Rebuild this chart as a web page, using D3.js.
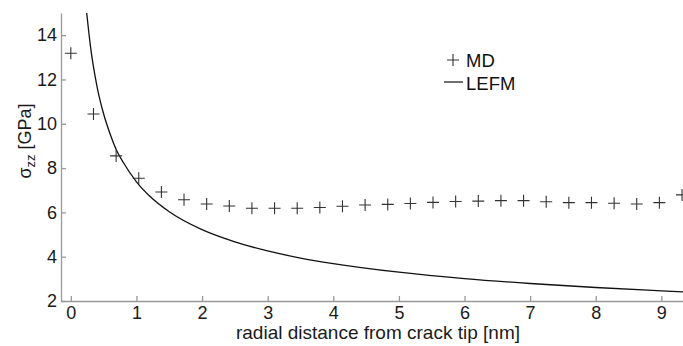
<!DOCTYPE html>
<html>
<head>
<meta charset="utf-8">
<script src="https://cdn.jsdelivr.net/npm/d3@7"></script>
<style>
  body { margin: 0; background: #fff; }
  svg { display: block; font-family: "Liberation Sans", Arial, sans-serif; }
  .axis path, .axis line { stroke: #999; stroke-width: 1.3; }
  .axis text { fill: #1a1a1a; font-size: 18px; }
</style>
</head>
<body>
<div class="svg-container"></div>
<script>
// MD points (radial distance in nm, stress in GPa)
var mdX = [0, 0.345, 0.69, 1.035, 1.38, 1.725, 2.07, 2.415, 2.76, 3.105,
           3.45, 3.795, 4.14, 4.485, 4.83, 5.175, 5.52, 5.865, 6.21, 6.555,
           6.9, 7.245, 7.59, 7.935, 8.28, 8.625, 8.97, 9.315];
var mdY = [13.18, 10.44, 8.55, 7.54, 6.92, 6.57, 6.38, 6.29, 6.19, 6.19,
           6.19, 6.22, 6.28, 6.33, 6.36, 6.40, 6.45, 6.49, 6.51, 6.53,
           6.53, 6.48, 6.44, 6.44, 6.41, 6.38, 6.44, 6.79];

// LEFM curve
var lefmX = [0.242, 0.3, 0.4, 0.5, 0.6, 0.7, 0.8, 1.0, 1.2, 1.5,
             2, 2.5, 3, 3.5, 4, 5, 6, 7, 8, 9, 9.35];
var lefmY = [15.0, 13.47, 11.67, 10.44, 9.53, 8.78, 8.25, 7.38, 6.74, 6.03,
             5.22, 4.67, 4.26, 3.94, 3.69, 3.30, 3.01, 2.79, 2.61, 2.46, 2.41];

var xTicks = [0, 1, 2, 3, 4, 5, 6, 7, 8, 9];
var yTicks = [2, 4, 6, 8, 10, 12, 14];

var legendLabels = ["MD", "LEFM"];

var W = 683, H = 346;
var margin = { top: 13, right: 0, bottom: 45, left: 61 };

var svg = d3.select(".svg-container").append("svg")
  .attr("width", W)
  .attr("height", H);

var x = d3.scaleLinear().domain([-0.15, 9.33]).range([margin.left, W - margin.right]);
var y = d3.scaleLinear().domain([2, 15]).range([H - margin.bottom, margin.top]);

svg.append("defs").append("clipPath").attr("id", "clip")
  .append("rect")
  .attr("x", margin.left).attr("y", margin.top)
  .attr("width", W - margin.left - margin.right)
  .attr("height", H - margin.top - margin.bottom);

// axes
svg.append("g").attr("class", "axis")
  .attr("transform", "translate(0," + (H - margin.bottom) + ")")
  .call(d3.axisBottom(x).tickValues(xTicks).tickSize(-5).tickSizeOuter(0).tickPadding(5));

svg.append("g").attr("class", "axis")
  .attr("transform", "translate(" + margin.left + ",0)")
  .call(d3.axisLeft(y).tickValues(yTicks).tickSize(-5).tickSizeOuter(0).tickPadding(4));

// LEFM line
var lefm = lefmX.map(function(d, i) { return { x: d, y: lefmY[i] }; });
var lineFunction = d3.line()
  .x(function(d) { return x(d.x); })
  .y(function(d) { return y(d.y); })
  .curve(d3.curveMonotoneX);

var plot = svg.append("g").attr("clip-path", "url(#clip)");

plot.append("path")
  .attr("d", lineFunction(lefm))
  .attr("fill", "none")
  .attr("stroke", "#111")
  .attr("stroke-width", 1.3);

// MD crosses
var md = mdX.map(function(d, i) { return { x: d, y: mdY[i] }; });
var s = 6;
plot.selectAll(".cross").data(md).enter().append("path")
  .attr("class", "cross")
  .attr("d", function(d) {
    var cx = x(d.x), cy = y(d.y);
    return "M" + (cx - s) + "," + cy + "H" + (cx + s) + "M" + cx + "," + (cy - s) + "V" + (cy + s);
  })
  .attr("fill", "none")
  .attr("stroke", "#333")
  .attr("stroke-width", 1.1);

// axis labels
svg.append("text")
  .attr("x", 378)
  .attr("y", 339)
  .attr("text-anchor", "middle")
  .attr("font-size", 19)
  .attr("fill", "#1a1a1a")
  .text("radial distance from crack tip [nm]");

var yl = svg.append("text")
  .attr("transform", "translate(31,141) rotate(-90)")
  .attr("text-anchor", "middle")
  .attr("font-size", 18)
  .attr("fill", "#1a1a1a");
yl.append("tspan").text("σ");
yl.append("tspan").attr("font-size", 13).attr("dy", 4).text("zz");
yl.append("tspan").attr("dy", -4).text(" [GPa]");

// legend
var lg = svg.append("g");
lg.append("path")
  .attr("d", "M447,60H459M453,54V66")
  .attr("stroke", "#333").attr("stroke-width", 1.1);
lg.append("line")
  .attr("x1", 444).attr("x2", 463).attr("y1", 82).attr("y2", 82)
  .attr("stroke", "#111").attr("stroke-width", 1.2);
lg.selectAll(".lt").data(legendLabels).enter().append("text")
  .attr("x", 466)
  .attr("y", function(d, i) { return 66.5 + i * 23.5; })
  .attr("font-size", 18.5)
  .attr("fill", "#111")
  .text(function(d) { return d; });
</script>
</body>
</html>
